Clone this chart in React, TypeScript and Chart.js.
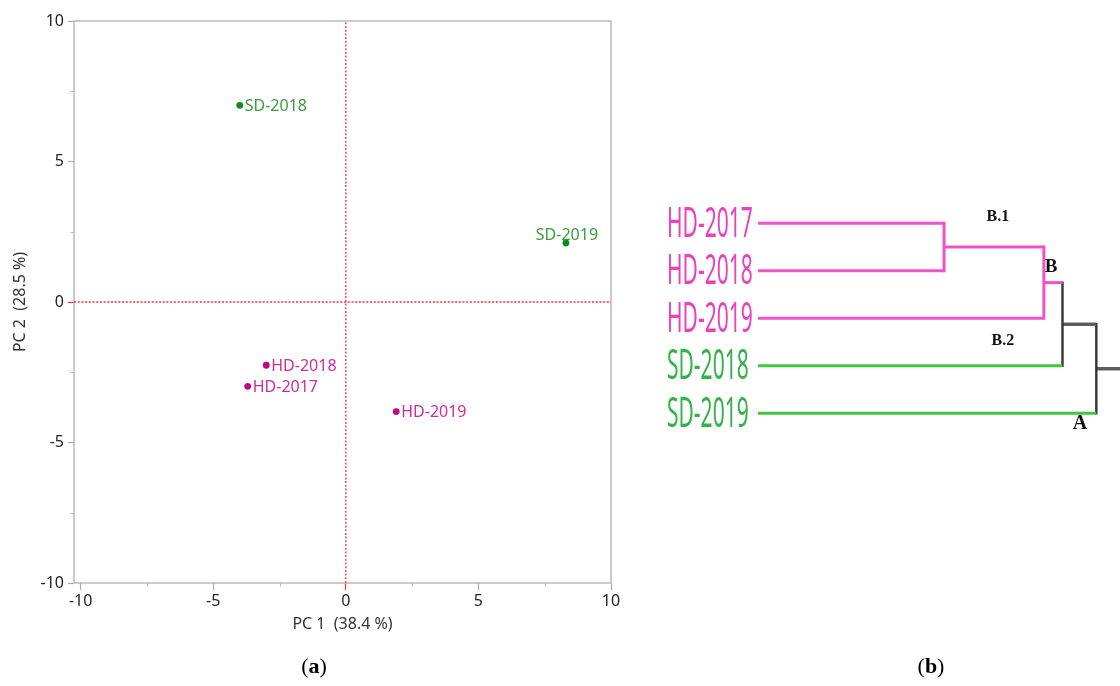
import React, { useEffect, useRef } from 'react';
import { Chart, registerables } from 'chart.js';

Chart.register(...registerables);

// ---------- Panel (a): PCA scores ----------
const SAMPLES = ['HD-2017', 'HD-2018', 'HD-2019', 'SD-2018', 'SD-2019'];
const GROUPS = ['HD', 'HD', 'HD', 'SD', 'SD'];
const PC1 = [-3.7, -3.0, 1.9, -4.0, 8.3];
const PC2 = [-3.0, -2.25, -3.9, 7.0, 2.1];
const AXIS_TICKS = [-10, -5, 0, 5, 10];
const MINOR_TICKS = [-7.5, -2.5, 2.5, 7.5];
const X_MIN = -10.25;
const X_MAX = 10;
const Y_MIN = -10;
const Y_MAX = 10;
const X_TITLE = 'PC 1  (38.4 %)';
const Y_TITLE = 'PC 2  (28.5 %)';
const LABEL_SIDE = ['right', 'right', 'right', 'right', 'above'];

// ---------- Panel (b): dendrogram ----------
const LEAVES = ['HD-2017', 'HD-2018', 'HD-2019', 'SD-2018', 'SD-2019'];
const LEAF_GROUPS = ['HD', 'HD', 'HD', 'SD', 'SD'];
const MERGE_PAIRS = [[0, 1], [5, 2], [6, 3], [7, 4]];
const MERGE_HEIGHTS = [5.5, 8.45, 9.0, 10.0];
const DIST_MAX = 10.7;
const CLUSTER_LABELS = ['B.1', 'B', 'B.2', 'A'];
const CLUSTER_LABEL_AT = [[7.09, 0.87], [8.66, 1.92], [7.24, 3.48], [9.52, 5.23]];
const CLUSTER_LABEL_SIZES = [16, 19, 16, 20];

const RED = '#ff2e40';
const SANS = '"Noto Sans", "Open Sans", sans-serif';
const SERIF = '"Liberation Serif", "DejaVu Serif", serif';

const DOT_COLORS: Record<string, string> = { HD: '#bd0a84', SD: '#148c1c' };
const PCA_TEXT_COLORS: Record<string, string> = { HD: '#cc2c9c', SD: '#3a9c3c' };
const LINE_COLORS: Record<string, string> = { HD: '#f152c9', SD: '#42c445', MIX: '#474747' };
const LEAF_TEXT_COLORS: Record<string, string> = { HD: '#ec40bb', SD: '#33b24a' };

function drawCaption(ctx: CanvasRenderingContext2D, letter: string, cx: number, cy: number) {
  ctx.save();
  ctx.textBaseline = 'middle';
  ctx.textAlign = 'left';
  ctx.fillStyle = '#000';
  const reg = `22px ${SERIF}`;
  const bold = `bold 22px ${SERIF}`;
  ctx.font = reg;
  const wp = ctx.measureText('(').width;
  const wq = ctx.measureText(')').width;
  ctx.font = bold;
  const wl = ctx.measureText(letter).width;
  let x = cx - (wp + wl + wq) / 2;
  ctx.font = reg;
  ctx.fillText('(', x, cy);
  x += wp;
  ctx.font = bold;
  ctx.fillText(letter, x, cy);
  x += wl;
  ctx.font = reg;
  ctx.fillText(')', x, cy);
  ctx.restore();
}

const pcaFramePlugin = {
  id: 'pcaFrame',
  beforeDatasetsDraw(chart: any) {
    const { ctx, chartArea, scales } = chart;
    const { left, right, top, bottom } = chartArea;
    ctx.save();
    ctx.strokeStyle = '#b9b9b9';
    ctx.lineWidth = 1.5;
    ctx.strokeRect(left, top, right - left, bottom - top);
    ctx.lineWidth = 1;
    MINOR_TICKS.forEach((v) => {
      const px = Math.round(scales.x.getPixelForValue(v)) + 0.5;
      ctx.beginPath();
      ctx.moveTo(px, bottom);
      ctx.lineTo(px, bottom + 3.5);
      ctx.stroke();
      const py = Math.round(scales.y.getPixelForValue(v)) + 0.5;
      ctx.beginPath();
      ctx.moveTo(left, py);
      ctx.lineTo(left - 3.5, py);
      ctx.stroke();
    });
    ctx.restore();
  },
  afterDatasetsDraw(chart: any) {
    const { ctx } = chart;
    chart.data.datasets.forEach((ds: any, di: number) => {
      if (!ds.names) return;
      const meta = chart.getDatasetMeta(di);
      meta.data.forEach((pt: any, i: number) => {
        ctx.save();
        ctx.font = `16px ${SANS}`;
        ctx.fillStyle = ds.textColor;
        ctx.textBaseline = 'middle';
        if (ds.sides[i] === 'above') {
          ctx.textAlign = 'center';
          ctx.fillText(ds.names[i], pt.x + 1, pt.y - 8);
        } else {
          ctx.textAlign = 'left';
          ctx.fillText(ds.names[i], pt.x + 5, pt.y + 1);
        }
        ctx.restore();
      });
    });
    drawCaption(ctx, 'a', 314, 667);
  },
};

function pcaDataset(group: string) {
  const idx = SAMPLES.map((_, i) => i).filter((i) => GROUPS[i] === group);
  return {
    label: group,
    data: idx.map((i) => ({ x: PC1[i], y: PC2[i] })),
    names: idx.map((i) => SAMPLES[i]),
    sides: idx.map((i) => LABEL_SIDE[i]),
    textColor: PCA_TEXT_COLORS[group],
    backgroundColor: DOT_COLORS[group],
    borderColor: DOT_COLORS[group],
    pointRadius: 3.4,
    pointBorderWidth: 0,
    showLine: false,
  };
}

function zeroLine(data: { x: number; y: number }[]) {
  return {
    label: 'zero',
    data,
    showLine: true,
    borderColor: RED,
    borderWidth: 1.3,
    borderDash: [2, 1.7],
    pointRadius: 0,
    clip: false,
  };
}

function buildDendrogram() {
  const nodes: { x: number; y: number; group: string }[] = LEAVES.map((_, i) => ({
    x: 0,
    y: i + 1,
    group: LEAF_GROUPS[i],
  }));
  MERGE_PAIRS.forEach(([a, b], k) => {
    const A = nodes[a];
    const B = nodes[b];
    nodes.push({ x: MERGE_HEIGHTS[k], y: (A.y + B.y) / 2, group: A.group === B.group ? A.group : 'MIX' });
  });
  const sets: any[] = [];
  MERGE_PAIRS.forEach(([a, b], k) => {
    const P = nodes[LEAVES.length + k];
    [a, b].forEach((c) => {
      const C = nodes[c];
      sets.push({
        data: [{ x: C.x, y: C.y }, { x: P.x, y: C.y }],
        borderColor: C.group === 'MIX' ? '#5c5c5c' : LINE_COLORS[C.group],
        borderWidth: C.group === 'MIX' ? 3.5 : 3,
        borderCapStyle: 'butt',
      });
    });
    sets.push({
      data: [{ x: P.x, y: nodes[a].y }, { x: P.x, y: nodes[b].y }],
      borderColor: P.group === 'MIX' ? '#343434' : LINE_COLORS[P.group],
      borderWidth: P.group === 'MIX' ? 2.4 : 3,
      borderCapStyle: 'square',
    });
  });
  const R = nodes[nodes.length - 1];
  sets.push({
    data: [{ x: R.x, y: R.y }, { x: DIST_MAX, y: R.y }],
    borderColor: '#5c5c5c',
    borderWidth: 3.5,
    borderCapStyle: 'butt',
  });
  return sets.map((s, i) => ({
    label: 'seg' + i,
    showLine: true,
    pointRadius: 0,
    clip: false,
    ...s,
  }));
}

const dendroPlugin = {
  id: 'dendroText',
  afterDatasetsDraw(chart: any) {
    const { ctx, chartArea, scales } = chart;
    LEAVES.forEach((name, i) => {
      const y = scales.y.getPixelForValue(i + 1);
      ctx.save();
      ctx.translate(chartArea.left - 91, y + 1.5);
      ctx.scale(0.75, 1.5);
      ctx.font = `28px ${SANS}`;
      ctx.fillStyle = LEAF_TEXT_COLORS[LEAF_GROUPS[i]];
      ctx.textAlign = 'left';
      ctx.textBaseline = 'middle';
      ctx.fillText(name, 0, 0);
      ctx.restore();
    });
    CLUSTER_LABELS.forEach((t, i) => {
      const [dx, dy] = CLUSTER_LABEL_AT[i];
      ctx.save();
      ctx.font = `bold ${CLUSTER_LABEL_SIZES[i]}px ${SERIF}`;
      ctx.fillStyle = '#111';
      ctx.textAlign = 'center';
      ctx.textBaseline = 'middle';
      ctx.fillText(t, scales.x.getPixelForValue(dx), scales.y.getPixelForValue(dy));
      ctx.restore();
    });
    drawCaption(ctx, 'b', 291, 667);
  },
};

export default function App() {
  const pcaRef = useRef<HTMLCanvasElement | null>(null);
  const dendroRef = useRef<HTMLCanvasElement | null>(null);

  useEffect(() => {
    const tickFont = { family: SANS, size: 16 };
    const pca = new Chart(pcaRef.current as HTMLCanvasElement, {
      type: 'scatter',
      data: {
        datasets: [
          zeroLine([{ x: 0, y: Y_MIN }, { x: 0, y: Y_MAX }]),
          zeroLine([{ x: X_MIN, y: 0 }, { x: X_MAX, y: 0 }]),
          pcaDataset('HD'),
          pcaDataset('SD'),
        ] as any,
      },
      options: {
        responsive: false,
        animation: false,
        events: [],
        layout: { padding: { top: 21, right: 29, left: 0, bottom: 52 } },
        plugins: { legend: { display: false }, tooltip: { enabled: false } },
        scales: {
          x: {
            type: 'linear',
            min: X_MIN,
            max: X_MAX,
            afterBuildTicks: (s: any) => {
              s.ticks = AXIS_TICKS.map((v) => ({ value: v }));
            },
            afterFit: (s: any) => {
              s.height = 51;
            },
            border: { display: false },
            grid: {
              drawOnChartArea: false,
              tickLength: 7,
              tickWidth: 1.2,
              tickColor: (c: any) => (c.tick && c.tick.value === 0 ? RED : '#aaaaaa'),
            },
            ticks: { color: '#222', font: tickFont, padding: 2, maxRotation: 0 },
            title: {
              display: true,
              text: X_TITLE,
              color: '#333',
              font: tickFont,
              padding: { top: 0, bottom: 0 },
            },
          },
          y: {
            type: 'linear',
            min: Y_MIN,
            max: Y_MAX,
            afterBuildTicks: (s: any) => {
              s.ticks = AXIS_TICKS.map((v) => ({ value: v }));
            },
            afterFit: (s: any) => {
              s.width = 74;
            },
            border: { display: false },
            grid: {
              drawOnChartArea: false,
              tickLength: 6,
              tickWidth: 1.2,
              tickColor: (c: any) => (c.tick && c.tick.value === 0 ? RED : '#aaaaaa'),
            },
            ticks: { color: '#222', font: tickFont, padding: 4 },
            title: {
              display: true,
              text: Y_TITLE,
              color: '#333',
              font: tickFont,
              padding: { top: 11, bottom: 0 },
            },
          },
        },
      } as any,
      plugins: [pcaFramePlugin],
    });

    const dendro = new Chart(dendroRef.current as HTMLCanvasElement, {
      type: 'scatter',
      data: { datasets: buildDendrogram() as any },
      options: {
        responsive: false,
        animation: false,
        events: [],
        layout: { padding: { top: 199.5, bottom: 249, left: 118, right: 0 } },
        plugins: { legend: { display: false }, tooltip: { enabled: false } },
        scales: {
          x: { type: 'linear', display: false, min: 0, max: DIST_MAX },
          y: { type: 'linear', display: false, min: 0.5, max: 5.5, reverse: true },
        },
      } as any,
      plugins: [dendroPlugin],
    });

    return () => {
      pca.destroy();
      dendro.destroy();
    };
  }, []);

  return (
    <div style={{ position: 'absolute', left: 0, top: 0, width: 1120, height: 686, background: '#fff' }}>
      <canvas
        ref={pcaRef}
        width={640}
        height={686}
        style={{ position: 'absolute', left: 0, top: 0, width: 640, height: 686 }}
      />
      <canvas
        ref={dendroRef}
        width={480}
        height={686}
        style={{ position: 'absolute', left: 640, top: 0, width: 480, height: 686 }}
      />
    </div>
  );
}
